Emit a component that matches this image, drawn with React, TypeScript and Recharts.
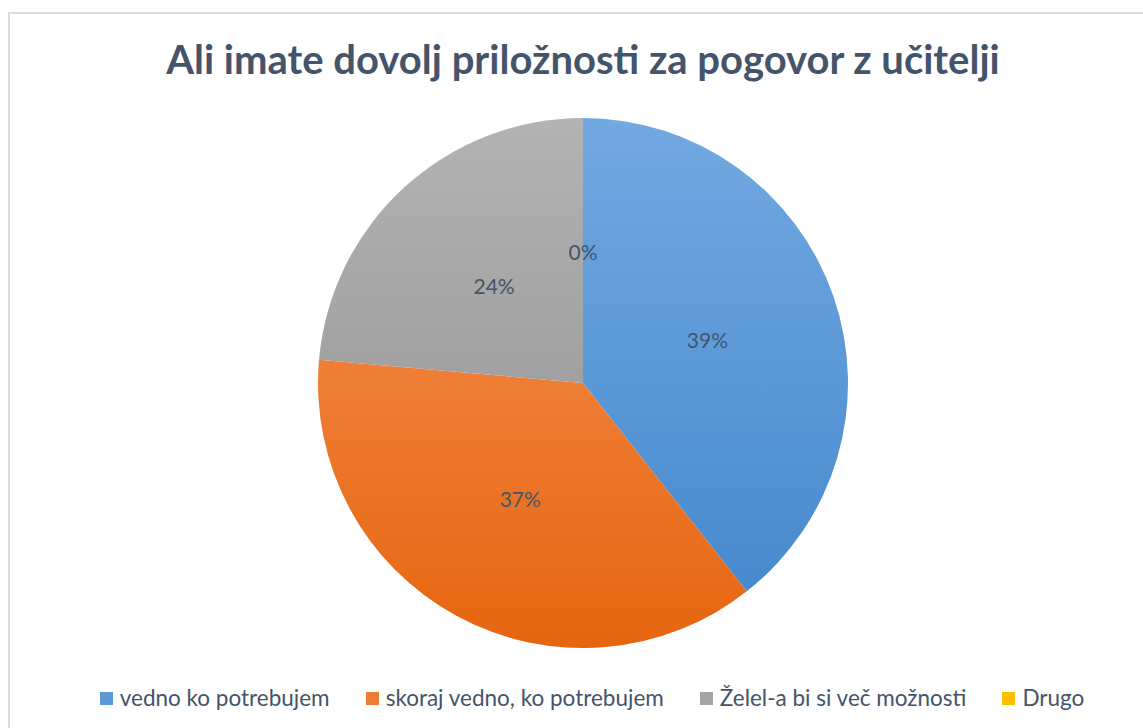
import { PieChart, Pie, Cell, Legend } from "recharts";

const categories = ["vedno ko potrebujem", "skoraj vedno, ko potrebujem", "Želel-a bi si več možnosti", "Drugo"];
const shares = [39.4, 37.0, 23.6, 0];
const colorsTop = ["#72a9e1", "#f6955a", "#b3b3b3", "#ffd233"];
const colorsBottom = ["#4286cc", "#e6650f", "#8e8e8e", "#f0b800"];
const legendColors = ["#5b9bd5", "#ed7d31", "#a5a5a5", "#ffc000"];

const data = categories.map((name, i) => ({ name, value: shares[i] }));

const RADIAN = Math.PI / 180;

const renderLabel = (props: any) => {
  const { cx, cy, midAngle, outerRadius, percent } = props;
  const r = outerRadius * 0.497;
  const x = cx + r * Math.cos(-midAngle * RADIAN);
  const y = cy + r * Math.sin(-midAngle * RADIAN);
  return (
    <text
      x={x}
      y={y}
      fill="#44546a"
      fontSize={21}
      fontFamily="Lato, 'Open Sans', sans-serif"
      textAnchor="middle"
      dominantBaseline="central"
    >
      {`${Math.round((percent || 0) * 100)}%`}
    </text>
  );
};

const renderLegend = () => (
  <div
    style={{
      display: "flex",
      justifyContent: "center",
      gap: 36,
      fontFamily: "Lato, 'Open Sans', sans-serif",
      fontSize: 22.5,
      color: "#44546a",
      lineHeight: "28px",
    }}
  >
    {categories.map((c, i) => (
      <div key={c} style={{ display: "flex", alignItems: "center", gap: 7 }}>
        <span style={{ display: "inline-block", width: 13, height: 13, background: legendColors[i] }} />
        <span>{c}</span>
      </div>
    ))}
  </div>
);

export default function App() {
  return (
    <div style={{ position: "fixed", left: 0, top: 0, width: 1143, height: 728, overflow: "hidden", background: "#fff" }}>
      <div
        style={{
          position: "absolute",
          left: 8,
          top: 12,
          width: 1160,
          height: 740,
          border: "2px solid #dadee3",
          boxSizing: "border-box",
        }}
      />
      <div
        style={{
          position: "absolute",
          left: 0,
          top: 35,
          width: 1166,
          textAlign: "center",
          fontFamily: "Lato, 'Open Sans', sans-serif",
          fontWeight: 700,
          fontSize: 40,
          lineHeight: 1.2,
          color: "#44546a",
        }}
      >
        Ali imate dovolj priložnosti za pogovor z učitelji
      </div>
      <div style={{ position: "absolute", left: 0, top: 0 }}>
        <PieChart width={1166} height={728} margin={{ top: 0, right: 0, bottom: 0, left: 0 }}>
          <defs>
            {categories.map((c, i) => (
              <linearGradient key={c} id={`g${i}`} gradientUnits="userSpaceOnUse" x1="0" y1="118" x2="0" y2="648">
                <stop offset="0%" stopColor={colorsTop[i]} />
                <stop offset="100%" stopColor={colorsBottom[i]} />
              </linearGradient>
            ))}
          </defs>
          <Pie
            data={data}
            dataKey="value"
            nameKey="name"
            cx={583}
            cy={383}
            outerRadius={265}
            startAngle={90}
            endAngle={-270}
            stroke="none"
            label={renderLabel}
            labelLine={false}
            isAnimationActive={false}
          >
            {data.map((d, i) => (
              <Cell key={d.name} fill={`url(#g${i})`} />
            ))}
          </Pie>
          <Legend
            content={renderLegend}
            wrapperStyle={{ position: "absolute", top: 684, left: 9, width: 1166 }}
          />
        </PieChart>
      </div>
    </div>
  );
}
